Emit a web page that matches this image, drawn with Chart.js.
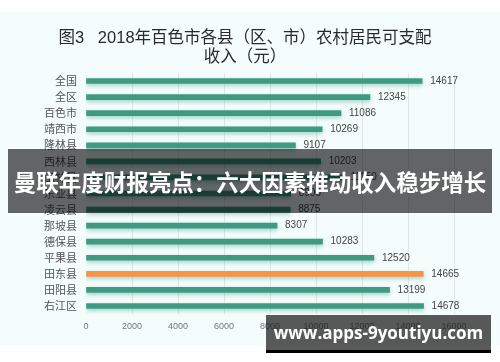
<!DOCTYPE html>
<html>
<head>
<meta charset="utf-8">
<script src="https://cdn.jsdelivr.net/npm/chart.js@4"></script>
<style>
  body { margin: 0; background: #fff; }
  #wrap { position: relative; width: 500px; height: 362px; overflow: hidden; }
  #bg { position: absolute; left: 0; top: 12px; width: 500px; height: 333px; background: #f4fcfc; }
  #salesChart { position: absolute; left: 0; top: 0; }
  #title { position: absolute; left: 0; width: 490px; top: 28px; text-align: center; font: 16.5px/19px "Liberation Sans", "Noto Sans CJK SC", sans-serif; color: #2a2a2a; }
  #banner { position: absolute; left: 8px; top: 149px; width: 484px; height: 64px; background: rgba(0,0,0,0.6); color: #fff; font: bold 22.5px/64px "Noto Sans CJK SC", sans-serif; text-align: center; white-space: nowrap; }
  #mark { position: absolute; left: 266px; top: 315px; width: 225px; height: 35px; background: rgba(20,20,20,0.7); border-bottom: 3px solid #000; color: #fff; font: bold 17px/35px "Open Sans", sans-serif; text-align: center; white-space: nowrap; }
</style>
</head>
<body>
<div id="wrap">
  <div id="bg"></div>
  <canvas id="salesChart" width="500" height="362"></canvas>
  <div id="title">图3&nbsp;&nbsp; 2018年百色市各县（区、市）农村居民可支配<br>收入（元）</div>
  <div id="banner">曼联年度财报亮点：六大因素推动收入稳步增长</div>
  <div id="mark">www.apps-9youtiyu.com</div>
</div>
<script>
// data
const regions = ['全国', '全区', '百色市', '靖西市', '隆林县', '西林县', '田林县', '乐业县', '凌云县', '那坡县', '德保县', '平果县', '田东县', '田阳县', '右江区'];
const incomes = [14617, 12345, 11086, 10269, 9107, 10203, 11150, 8900, 8875, 8307, 10283, 12520, 14665, 13199, 14678];
const highlight = '田东县';
const xTicks = [0, 2000, 4000, 6000, 8000, 10000, 12000, 14000, 16000];

const barColors = regions.map(r => r === highlight ? '#f7944a' : '#3f9a82');

// shadow under the bars
const barShadow = {
    id: 'barShadow',
    beforeDatasetsDraw(chart) {
        const ctx = chart.ctx;
        ctx.save();
        ctx.shadowColor = 'rgba(40,150,130,0.4)';
        ctx.shadowBlur = 4;
        ctx.shadowOffsetY = 2;
    },
    afterDatasetsDraw(chart) {
        chart.ctx.restore();
    }
};

// value text at bar end
const valueLabels = {
    id: 'valueLabels',
    afterDatasetsDraw(chart) {
        const ctx = chart.ctx;
        const meta = chart.getDatasetMeta(0);
        ctx.save();
        ctx.font = '10px "Liberation Sans", sans-serif';
        ctx.fillStyle = '#444';
        ctx.textAlign = 'left';
        ctx.textBaseline = 'middle';
        meta.data.forEach((bar, i) => {
            ctx.fillText(String(incomes[i]), bar.x + 8, bar.y);
        });
        ctx.restore();
    }
};

const salesChartCtx = document.getElementById('salesChart').getContext('2d');
const salesChart = new Chart(salesChartCtx, {
    type: 'bar',
    data: {
        labels: regions,
        datasets: [{
            data: incomes,
            backgroundColor: barColors,
            borderWidth: 0,
            barThickness: 5
        }]
    },
    options: {
        indexAxis: 'y',
        responsive: false,
        animation: false,
        devicePixelRatio: 1,
        layout: { padding: { top: 73, right: 46, left: 0, bottom: 0 } },
        plugins: {
            legend: { display: false },
            tooltip: { enabled: false }
        },
        scales: {
            x: {
                min: 0,
                max: 16000,
                afterBuildTicks: scale => { scale.ticks = xTicks.map(v => ({ value: v })); },
                afterFit: scale => { scale.height = 48; },
                ticks: {
                    color: '#777',
                    font: { size: 9, family: 'Liberation Sans' },
                    padding: 7,
                    callback: v => String(v)
                },
                grid: {
                    drawTicks: false,
                    color: c => c.tick && c.tick.value === 0 ? 'rgba(0,0,0,0)' : '#e2e6e6'
                },
                border: { display: false }
            },
            y: {
                afterFit: scale => { scale.width = 86; },
                ticks: { color: '#555', font: { size: 11, family: 'Noto Sans CJK SC' }, padding: 9, autoSkip: false },
                grid: { display: false, drawTicks: false },
                border: { display: false }
            }
        }
    },
    plugins: [barShadow, valueLabels]
});
</script>
</body>
</html>
